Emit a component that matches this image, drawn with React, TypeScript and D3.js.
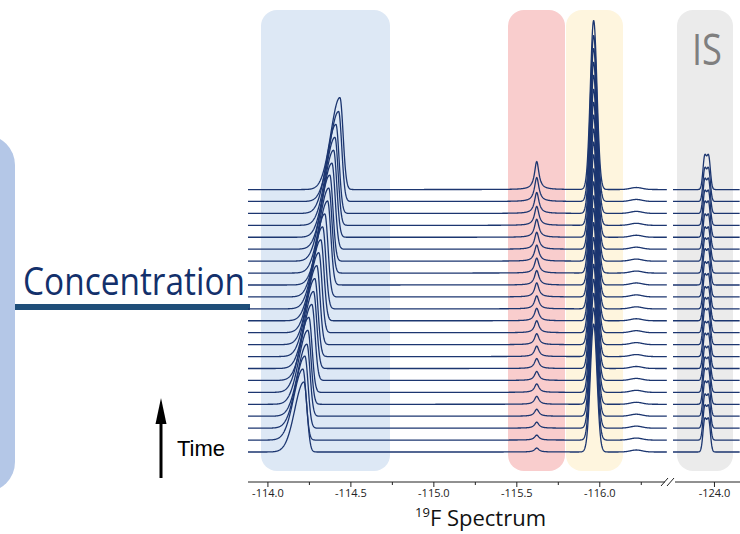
import React from 'react';
import * as d3 from 'd3';

// stacked 19F spectra, index 0 = first time point (bottom trace)
const peakAShift = [
  -114.217, -114.211, -114.223, -114.235, -114.241, -114.247, -114.265, -114.275,
  -114.283, -114.295, -114.307, -114.319, -114.330, -114.343, -114.360, -114.367,
  -114.373, -114.386, -114.396, -114.404, -114.410, -114.426, -114.434,
];
const peakAHeight = [70, 71, 72, 72, 74, 75, 76, 77, 78, 79, 80, 81, 82, 83, 84, 85, 86, 86, 87, 88, 89, 90, 92];
const peakBHeight = [4, 5, 6, 7, 8, 8.5, 9, 10, 10.5, 11, 12, 12.5, 13, 14, 14.5, 15, 16, 17, 18, 19, 21, 24, 28];
const peakCHeight = [128, 132, 135, 137, 140, 142, 143, 146, 148, 149, 151, 152, 154, 155, 156, 158, 159, 160, 162, 163, 165, 166, 169];
const isHeight = [33, 34, 33, 34, 35, 34, 33, 34, 34, 35, 34, 33, 34, 34, 35, 34, 33, 34, 35, 34, 34, 33, 34];

const peakBShift = -115.62;
const peakCShift = -115.963;
const humpShift = -116.22;
const humpHeight = 2;
const isShifts = [-123.941, -123.965];

const majorTicks = [-114.0, -114.5, -115.0, -115.5, -116.0];
const minorTicks = [-114.25, -114.75, -115.25, -115.75, -116.25];
const isTicks = [-124.0];

const traceStep = 11.93;

const gauss = (x: number, c: number, s: number) => Math.exp(-((x - c) ** 2) / (2 * s * s));
const lorentz = (x: number, c: number, w: number) => 1 / (1 + ((x - c) / w) ** 2);

function mainSignal(v: number, i: number) {
  const a = peakAShift[i];
  // tailing to the low-field side
  const ga = v > a ? gauss(v, a, 0.055) : gauss(v, a, 0.019);
  return (
    peakAHeight[i] * ga +
    peakBHeight[i] * lorentz(v, peakBShift, 0.016) +
    peakCHeight[i] * gauss(v, peakCShift, 0.02) +
    humpHeight * gauss(v, humpShift, 0.035)
  );
}

function isSignal(v: number, i: number) {
  return isShifts.reduce((s, c) => s + isHeight[i] * gauss(v, c, 0.0105), 0) * 0.95;
}

export default function App() {
  const width = 740;
  const height = 534;
  const axisY = 482;

  const x = d3.scaleLinear().domain([-113.88, -116.405]).range([248, 667]);
  const x2 = d3.scaleLinear().domain([-123.75, -124.154]).range([673, 740]);
  const y = d3.scaleLinear().domain([0, 460]).range([452, -8]);

  const mainPts = d3.range(-113.88, -116.405, -0.002);
  const isPts = d3.range(-123.75, -124.154, -0.002);

  const traces = peakAHeight.map((_, i) => {
    const base = i * traceStep;
    const lineMain = d3
      .line<number>()
      .x(v => x(v))
      .y(v => y(base + mainSignal(v, i)));
    const lineIs = d3
      .line<number>()
      .x(v => x2(v))
      .y(v => y(base + isSignal(v, i)));
    return { main: lineMain(mainPts), is: lineIs(isPts) };
  });

  const boxes = [
    { x0: 261, x1: 390, fill: '#dde8f5' },
    { x0: 508, x1: 565, fill: '#f9cdcd' },
    { x0: 566, x1: 623, fill: '#fef5de' },
    { x0: 677, x1: 733, fill: '#ebebeb' },
  ];

  return (
    <svg width={width} height={height} style={{ position: 'absolute', left: 0, top: 0 }}>
      {/* left side decoration */}
      <rect x={-60} y={135} width={75} height={357} rx={30} fill="#b4c7e7" />
      <line x1={15} x2={250} y1={307} y2={307} stroke="#1f4e79" strokeWidth={6} />
      <text
        x={23}
        y={295}
        fontFamily="Open Sans"
        fontSize={39}
        textLength={222}
        lengthAdjust="spacingAndGlyphs"
        fill="#13306b"
      >
        Concentration
      </text>

      <line x1={161} x2={161} y1={478} y2={410} stroke="#000" strokeWidth={3} />
      <path d="M155.5,424 L161,398 L166.5,424 Z" fill="#000" />
      <text x={177} y={456} fontFamily="Liberation Sans, Arial" fontSize={22} fill="#000">
        Time
      </text>

      {boxes.map((b, i) => (
        <rect key={i} x={b.x0} y={10} width={b.x1 - b.x0} height={461} rx={16} fill={b.fill} />
      ))}
      <text
        x={707}
        y={65}
        textAnchor="middle"
        fontFamily="Open Sans"
        fontSize={44}
        textLength={30}
        lengthAdjust="spacingAndGlyphs"
        fill="#7f7f7f"
      >
        IS
      </text>

      {traces.map((t, i) => (
        <g key={i} fill="none" stroke="#1c3670" strokeWidth={1.3} strokeLinejoin="round">
          <path d={t.main ?? ''} />
          <path d={t.is ?? ''} />
        </g>
      ))}

      {/* axis */}
      <g stroke="#222" strokeWidth={1} fill="none">
        <line x1={248} x2={665} y1={axisY} y2={axisY} />
        <line x1={675} x2={740} y1={axisY} y2={axisY} />
        <line x1={661} x2={668} y1={486} y2={478} />
        <line x1={667} x2={674} y1={486} y2={478} />
        {majorTicks.map(t => (
          <line key={t} x1={x(t)} x2={x(t)} y1={axisY} y2={axisY + 5} />
        ))}
        {minorTicks.map(t => (
          <line key={t} x1={x(t)} x2={x(t)} y1={axisY} y2={axisY + 3} />
        ))}
        {isTicks.map(t => (
          <line key={t} x1={x2(t)} x2={x2(t)} y1={axisY} y2={axisY + 5} />
        ))}
      </g>
      <g fontFamily="Open Sans" fontSize={11} fill="#222" textAnchor="middle">
        {majorTicks.map(t => (
          <text key={t} x={x(t)} y={497}>
            {t.toFixed(1)}
          </text>
        ))}
        {isTicks.map(t => (
          <text key={t} x={x2(t)} y={497}>
            {t.toFixed(1)}
          </text>
        ))}
      </g>
      <text x={415} y={526} fontFamily="Open Sans" fontSize={22} fill="#111">
        <tspan fontSize={13} dy={-9}>19</tspan>
        <tspan dy={9}>F Spectrum</tspan>
      </text>
    </svg>
  );
}
